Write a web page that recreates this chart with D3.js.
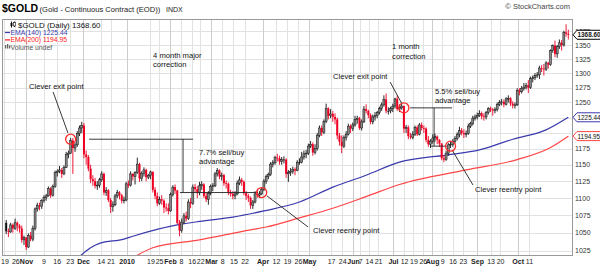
<!DOCTYPE html>
<meta charset="utf-8">
<style>
body { margin: 0; background: #fff; }
svg text { font-family: "Liberation Sans", Arial, sans-serif; }
.axis path, .axis line { display: none; }
</style>
<div id="chart"></div>
<script src="https://d3js.org/d3.v7.min.js"></script>
<script>
// daily bars, Oct 15 2009 .. Oct 15 2010
var opens = [1064,1052,1051,1061,1056,1064,1060,1056,1040,1043,1030,1046,1041,1056,1084,1089,1088,1096,1101,1103,1114,1104,
  1117,1138,1140,1142,1136,1146,1166,1168,1188,1176,1181,1199,1208,1212,1166,1162,1144,1128,1125,1118,1119,1127,1136,1108,
  1111,1097,1087,1090,1103,1108,1104,1096,1097,1121,1119,1136,1132,1138,1151,1129,1137,1142,1131,1134,1139,1112,1103,1092,
  1098,1096,1086,1085,1081,1105,1116,1111,1064,1053,1065,1074,1070,1094,1092,1116,1113,1108,1118,1120,1103,1098,1107,1117,
  1118,1136,1141,1132,1134,1122,1121,1108,1106,1103,1106,1122,1127,1124,1107,1103,1100,1089,1094,1106,1104,1106,1113,1125,
  1132,1135,1151,1153,1161,1160,1155,1158,1158,1136,1138,1140,1143,1141,1154,1154,1162,1167,1168,1179,1182,1169,1175,1196,
  1208,1201,1219,1240,1228,1231,1226,1222,1196,1186,1179,1193,1198,1211,1207,1213,1222,1224,1208,1218,1239,1236,1229,1218,
  1226,1228,1233,1240,1246,1255,1236,1236,1240,1244,1256,1239,1241,1244,1207,1209,1195,1193,1198,1209,1198,1213,1208,1207,
  1189,1182,1187,1192,1194,1189,1183,1160,1158,1168,1181,1182,1186,1191,1198,1204,1200,1198,1199,1211,1215,1224,1226,1228,
  1232,1227,1226,1233,1240,1238,1237,1238,1247,1250,1251,1247,1256,1257,1248,1245,1246,1270,1268,1274,1276,1279,1275,1291,
  1292,1296,1297,1309,1308,1307,1318,1315,1340,1349,1334,1347,1354,1350,1373,1370.5];
var highs = [1068,1056,1064,1063,1070,1066,1062,1060,1046,1044,1049,1051,1060,1086,1093,1093,1098,1104,1106,1117,1116,1120,
  1141,1143,1148,1145,1149,1170,1172,1192,1192,1185,1203,1212,1218,1216,1172,1165,1150,1134,1130,1125,1130,1140,1138,1116,
  1113,1100,1095,1106,1112,1110,1106,1102,1124,1126,1140,1137,1140,1161,1153,1140,1146,1144,1136,1141,1140,1116,1108,1102,
  1104,1098,1092,1092,1108,1119,1120,1112,1068,1070,1078,1080,1098,1100,1120,1121,1118,1124,1125,1122,1108,1110,1120,1122,
  1139,1145,1143,1138,1136,1126,1123,1112,1110,1110,1126,1132,1130,1126,1110,1106,1102,1097,1110,1112,1110,1116,1128,1135,
  1138,1154,1157,1164,1167,1164,1162,1163,1160,1142,1145,1147,1146,1157,1160,1170,1172,1173,1183,1187,1185,1182,1200,1212,
  1212,1222,1248,1242,1239,1236,1232,1225,1200,1196,1196,1203,1215,1214,1217,1228,1228,1226,1222,1244,1247,1238,1232,1230,
  1234,1236,1243,1250,1262,1265,1242,1243,1248,1258,1262,1247,1250,1245,1213,1212,1200,1203,1212,1212,1216,1217,1212,1209,
  1195,1190,1198,1199,1196,1190,1184,1165,1172,1184,1186,1190,1195,1201,1210,1208,1206,1204,1215,1218,1228,1230,1233,1237,
  1235,1232,1236,1242,1243,1241,1242,1250,1254,1256,1255,1259,1262,1259,1252,1250,1274,1274,1278,1283,1283,1288,1294,1296,
  1300,1302,1313,1314,1316,1321,1320,1342,1351,1358,1350,1360,1359,1376,1388,1378];
var lows = [1048,1044,1050,1050,1054,1052,1050,1036,1033,1026,1029,1038,1038,1053,1080,1082,1084,1093,1096,1102,1100,1102,
  1115,1132,1137,1130,1134,1145,1160,1167,1136,1170,1178,1195,1200,1160,1150,1140,1122,1118,1114,1112,1115,1124,1104,1103,
  1094,1078,1080,1088,1100,1098,1092,1092,1095,1115,1117,1126,1120,1136,1124,1125,1132,1125,1128,1128,1108,1098,1088,1090,
  1090,1078,1080,1076,1080,1102,1106,1062,1045,1050,1062,1066,1068,1085,1090,1108,1100,1104,1112,1100,1094,1090,1104,1110,
  1116,1132,1128,1126,1118,1114,1104,1102,1098,1098,1104,1119,1118,1104,1097,1094,1084,1084,1092,1100,1100,1104,1110,1121,
  1128,1133,1146,1150,1155,1150,1150,1152,1130,1124,1133,1136,1134,1140,1150,1152,1158,1160,1165,1176,1164,1166,1172,1193,
  1195,1198,1216,1222,1224,1218,1214,1190,1180,1168,1176,1188,1196,1200,1203,1210,1215,1205,1204,1216,1232,1224,1214,1214,
  1220,1224,1230,1236,1243,1232,1230,1232,1234,1240,1236,1234,1238,1200,1200,1190,1190,1190,1195,1195,1196,1204,1200,1185,
  1178,1176,1183,1186,1182,1178,1157,1154,1156,1164,1176,1178,1183,1188,1193,1196,1192,1193,1197,1208,1212,1220,1222,1226,
  1222,1220,1222,1230,1234,1228,1232,1235,1244,1245,1242,1245,1250,1244,1240,1240,1244,1262,1265,1270,1272,1266,1273,1284,
  1288,1292,1290,1302,1296,1304,1308,1313,1336,1328,1327,1343,1340,1347,1365,1360];
var closes = [1052,1051,1061,1056,1064,1060,1056,1040,1043,1030,1046,1041,1056,1084,1089,1088,1096,1101,1103,1114,1104,1117,
  1138,1140,1142,1136,1146,1166,1168,1188,1176,1181,1199,1208,1212,1166,1162,1144,1128,1125,1118,1119,1127,1136,1108,1111,
  1097,1087,1090,1103,1108,1104,1096,1097,1121,1119,1136,1132,1138,1151,1129,1137,1142,1131,1134,1139,1112,1103,1092,1098,
  1096,1086,1085,1081,1105,1116,1111,1064,1053,1065,1074,1070,1094,1092,1116,1113,1108,1118,1120,1103,1098,1107,1117,1118,
  1136,1141,1132,1134,1122,1121,1108,1106,1103,1106,1122,1127,1124,1107,1103,1100,1089,1094,1106,1104,1106,1113,1125,1132,
  1135,1151,1153,1161,1160,1155,1158,1158,1136,1138,1140,1143,1141,1154,1154,1162,1167,1168,1179,1182,1169,1175,1196,1208,
  1201,1219,1240,1228,1231,1226,1222,1196,1186,1179,1193,1198,1211,1207,1213,1222,1224,1208,1218,1239,1236,1229,1218,1226,
  1228,1233,1240,1246,1255,1236,1236,1240,1244,1256,1239,1241,1244,1207,1209,1195,1193,1198,1209,1198,1213,1208,1207,1189,
  1182,1187,1192,1194,1189,1183,1160,1158,1168,1181,1182,1186,1191,1198,1204,1200,1198,1199,1211,1215,1224,1226,1228,1232,
  1227,1226,1233,1240,1238,1237,1238,1247,1250,1251,1247,1256,1257,1248,1245,1246,1270,1268,1274,1276,1279,1275,1291,1292,
  1296,1297,1309,1308,1307,1318,1315,1340,1349,1334,1347,1354,1350,1373,1370.5,1368.6];

// moving averages: [bar, value]
var ema140 = [[33,1017],[38,1029],[42,1035],[53,1041],[57,1045],[77,1061],[87,1066],[102,1072],[116,1081],[132,1094],
  [147,1116],[162,1134],[177,1154],[198,1165],[213,1173],[228,1190],[243,1205],[253,1225.44]];
var ema200 = [[58,1017],[66,1029],[87,1040],[110,1054],[117,1058],[132,1071],[147,1085],[162,1102],[177,1120],[207,1142],
  [230,1158],[245,1177],[253,1194.95]];

var priceTicks = [1025,1050,1075,1100,1125,1150,1175,1200,1225,1250,1275,1300,1325,1350,1375];
// date labels, placed (in bar units) where the picture shows them
var dateTickBars = [-0.8,4.1,8.9,16.8,22.7,28.6,34.6,42.6,47,54.2,64.9,68.8,73.7,78.6,83.5,87.3,92.2,97.2,102.3,107.3,
  115.4,121.4,126.4,131.3,136.3,146.2,151.2,156.1,159.3,163.3,167.4,174.1,179.1,183.3,187.5,191.7,196.3,200.9,205.5,
  211.9,218,222.3,230.2,235.3];
var dateTickText = ["19","26","Nov","9","16","23","Dec","14","21","2010","19","25","Feb","8","16","22","Mar","8","15","22",
  "Apr","12","19","26","May","17","24","Jun","7","14","21","Jul","12","19","26","Aug","9","16","23","Sep","13","20","Oct","11"];
var monthText = ["Nov","Dec","2010","Feb","Mar","Apr","May","Jun","Jul","Aug","Sep","Oct"];

var legendNames = ["$GOLD (Daily) 1368.60", "EMA(140) 1225.44", "EMA(200) 1194.95", "Volume undef"];

// annotations in data terms: circles [bar, price]
var exitPoints = [[29,1190],[179,1241]];
var reentryPoints = [[115,1108],[200,1179]];

var W = 600, H = 268;
var plot = {left: 2, right: 572, top: 19, bottom: 255};

var svg = d3.select("#chart").append("svg")
  .attr("width", W).attr("height", H);

var x = d3.scaleLinear().domain([0, closes.length - 1]).range([6.2, 568.3]);
var y = d3.scaleLog().domain([1019.1, 1397.8]).range([plot.bottom, plot.top]);

// grid
var grid = svg.append("g");
grid.selectAll(".hg").data(priceTicks).enter().append("line")
  .attr("x1", plot.left).attr("x2", plot.right)
  .attr("y1", function(d) { return Math.round(y(d)) + 0.5; })
  .attr("y2", function(d) { return Math.round(y(d)) + 0.5; })
  .attr("stroke", "#e2e2e2");
grid.selectAll(".vg").data(dateTickBars).enter().append("line")
  .attr("x1", function(d) { return Math.round(x(d)) + 0.5; })
  .attr("x2", function(d) { return Math.round(x(d)) + 0.5; })
  .attr("y1", plot.top).attr("y2", plot.bottom)
  .attr("stroke", function(d, i) { return monthText.indexOf(dateTickText[i]) >= 0 ? "#cccccc" : "#e2e2e2"; });

svg.append("rect")
  .attr("x", plot.left + 0.5).attr("y", plot.top + 0.5)
  .attr("width", plot.right - plot.left).attr("height", plot.bottom - plot.top)
  .attr("fill", "none").attr("stroke", "#999");

// moving averages
var line = d3.line()
  .x(function(d) { return x(d[0]); })
  .y(function(d) { return y(d[1]); })
  .curve(d3.curveMonotoneX);

svg.append("clipPath").attr("id", "clip").append("rect")
  .attr("x", plot.left).attr("y", plot.top)
  .attr("width", plot.right - plot.left).attr("height", plot.bottom - plot.top);

var plotG = svg.append("g").attr("clip-path", "url(#clip)");
plotG.append("path").datum(ema140).attr("d", line)
  .attr("fill", "none").attr("stroke", "#3a3aad").attr("stroke-width", 1.2);
plotG.append("path").datum(ema200).attr("d", line)
  .attr("fill", "none").attr("stroke", "#ff4646").attr("stroke-width", 1.2);

// candles: black when close is up on the day, red when down; hollow when close > open
var bars = plotG.selectAll(".bar").data(closes).enter().append("g");
function barColor(i) { return (i > 0 && closes[i] < closes[i - 1]) ? "#ee0022" : "#111"; }
bars.append("line")
  .attr("x1", function(d, i) { return x(i); })
  .attr("x2", function(d, i) { return x(i); })
  .attr("y1", function(d, i) { return y(highs[i]); })
  .attr("y2", function(d, i) { return y(lows[i]); })
  .attr("stroke", function(d, i) { return barColor(i); })
  .attr("stroke-width", 0.9);
bars.append("rect")
  .attr("x", function(d, i) { return x(i) - 1; })
  .attr("width", 2)
  .attr("y", function(d, i) { return y(Math.max(opens[i], closes[i])); })
  .attr("height", function(d, i) { return Math.max(0.8, Math.abs(y(opens[i]) - y(closes[i]))); })
  .attr("fill", function(d, i) { return closes[i] > opens[i] ? "#888" : barColor(i); })
  .attr("stroke", function(d, i) { return closes[i] > opens[i] ? "#111" : "none"; })
  .attr("stroke-width", 0.5);

// price tags on right axis
var tags = [[closes[closes.length - 1], "#000", "1368.60", true],
            [ema140[ema140.length - 1][1], "#3a3aad", "1225.44", false],
            [ema200[ema200.length - 1][1], "#ff4646", "1194.95", false]];

// right axis (labels sitting under a price tag are hidden by it)
var yAxis = svg.append("g").attr("class", "axis")
  .attr("transform", "translate(" + (plot.right + 3) + ",0)")
  .call(d3.axisRight(y).tickValues(priceTicks.filter(function(v) {
      return !tags.some(function(t) { return Math.abs(y(t[0]) - y(v)) < 3.3; });
    })).tickSize(0).tickFormat(d3.format("d")));
yAxis.selectAll("text").attr("font-size", 7).attr("fill", "#333").attr("x", 0);

// bottom axis
var xAxis = svg.append("g").attr("class", "axis")
  .attr("transform", "translate(0," + (plot.bottom + 1) + ")")
  .call(d3.axisBottom(x).tickValues(dateTickBars).tickSize(0)
    .tickFormat(function(d, i) { return dateTickText[i]; }));
xAxis.selectAll("text").attr("font-size", 7).attr("fill", "#222").attr("y", 3)
  .attr("font-weight", function(d, i) { return monthText.indexOf(dateTickText[i]) >= 0 ? "bold" : "normal"; });

tags.forEach(function(t) {
  var ty = y(t[0]);
  var g = svg.append("g");
  g.append("path")
    .attr("d", "M" + (plot.right + 1) + "," + ty + "l4,-4.5h30v9h-30z")
    .attr("fill", "#fff").attr("stroke", t[1]).attr("stroke-width", 1);
  g.append("text").attr("x", plot.right + 5.5).attr("y", ty + 2.4)
    .attr("font-size", 6.4).attr("font-weight", t[3] ? "bold" : "normal").attr("fill", "#111").text(t[2]);
});

// legend
var leg = svg.append("g");
var legColors = ["#111", "#3a3aad", "#ff2020", "#555"];
leg.selectAll("text").data(legendNames).enter().append("text")
  .attr("x", function(d, i) { return i == 0 ? 18 : 10.5; })
  .attr("y", function(d, i) { return 27.5 + i * 7.4; })
  .attr("font-family", "DejaVu Sans")
  .attr("font-size", function(d, i) { return i == 0 ? 7.9 : 6.8; })
  .attr("fill", function(d, i) { return legColors[i]; })
  .text(function(d) { return d; });
leg.append("line").attr("x1", 11.5).attr("x2", 11.5).attr("y1", 21.5).attr("y2", 27.5).attr("stroke", "#111");
leg.append("rect").attr("x", 10.5).attr("y", 23).attr("width", 2).attr("height", 3).attr("fill", "#111");
leg.append("line").attr("x1", 14.5).attr("x2", 14.5).attr("y1", 21.5).attr("y2", 27).attr("stroke", "#111");
leg.append("rect").attr("x", 13.5).attr("y", 22.5).attr("width", 2).attr("height", 3.5).attr("fill", "#fff").attr("stroke", "#111").attr("stroke-width", 0.6);
leg.append("line").attr("x1", 5).attr("x2", 10).attr("y1", 32.5).attr("y2", 32.5).attr("stroke", "#3a3aad").attr("stroke-width", 1.2);
leg.append("line").attr("x1", 5).attr("x2", 10).attr("y1", 39.9).attr("y2", 39.9).attr("stroke", "#ff2020").attr("stroke-width", 1.2);
leg.append("rect").attr("x", 5).attr("y", 45).attr("width", 1.3).attr("height", 3.5).attr("fill", "#666");
leg.append("rect").attr("x", 7).attr("y", 44).attr("width", 1.3).attr("height", 4.5).attr("fill", "#666");
leg.append("rect").attr("x", 9).attr("y", 45.5).attr("width", 1.3).attr("height", 3).attr("fill", "#666");

// title
svg.append("text").attr("x", 2).attr("y", 12).attr("font-size", 10.5).attr("font-weight", "bold").text("$GOLD");
svg.append("text").attr("x", 39.5).attr("y", 11.5).attr("font-size", 7.6).attr("fill", "#222")
  .text("(Gold - Continuous Contract (EOD))");
svg.append("text").attr("x", 166).attr("y", 11.5).attr("font-size", 7).attr("fill", "#222").text("INDX");
svg.append("text").attr("x", 570).attr("y", 9).attr("font-size", 7.5).attr("fill", "#444")
  .attr("text-anchor", "end").text("\u00a9 StockCharts.com");

// annotations
var ann = svg.append("g");
function seg(b1, p1, b2, p2) {
  ann.append("line").attr("x1", x(b1)).attr("y1", y(p1)).attr("x2", x(b2)).attr("y2", y(p2))
    .attr("stroke", "#222").attr("stroke-width", 0.9);
}
function note(b, p, lines) {
  lines.forEach(function(t, i) {
    ann.append("text").attr("x", x(b)).attr("y", y(p) + i * 9.3 + 2.5)
      .attr("font-size", 7.6).attr("fill", "#111").text(t);
  });
}
// first correction bracket
seg(37.3, exitPoints[0][1], 84.1, exitPoints[0][1]);
seg(79.6, exitPoints[0][1], 79.6, reentryPoints[0][1]);
seg(78.2, reentryPoints[0][1], 113.3, reentryPoints[0][1]);
// second correction bracket
seg(181.8, exitPoints[1][1], 200.7, exitPoints[1][1]);
seg(192.6, exitPoints[1][1], 192.6, reentryPoints[1][1]);
seg(190.8, reentryPoints[1][1], 198.4, reentryPoints[1][1]);
// leaders
seg(21.1, 1267.7, 27.8, 1200);
seg(117.4, 1102.9, 135.9, 1058);
seg(172.8, 1284.7, 178, 1248.6);
seg(200.7, 1172.9, 210.1, 1119.2);

ann.selectAll(".ring").data(exitPoints.concat(reentryPoints)).enter().append("circle")
  .attr("cx", function(d) { return x(d[0]); }).attr("cy", function(d) { return y(d[1]); })
  .attr("r", 5).attr("fill", "none").attr("stroke", "#ff2a2a").attr("stroke-width", 1.3);

note(66.1, 1332, ["4 month major", "correction"]);
note(10.3, 1276.7, ["Clever exit point"]);
note(86.8, 1168.7, ["7.7% sell/buy", "advantage"]);
note(138.1, 1052.8, ["Clever reentry point"]);
note(173.7, 1346.9, ["1 month", "correction"]);
note(147.1, 1293.9, ["Clever exit point"]);
note(193, 1268.2, ["5.5% sell/buy", "advantage"]);
note(211, 1112.8, ["Clever reentry point"]);
</script>
